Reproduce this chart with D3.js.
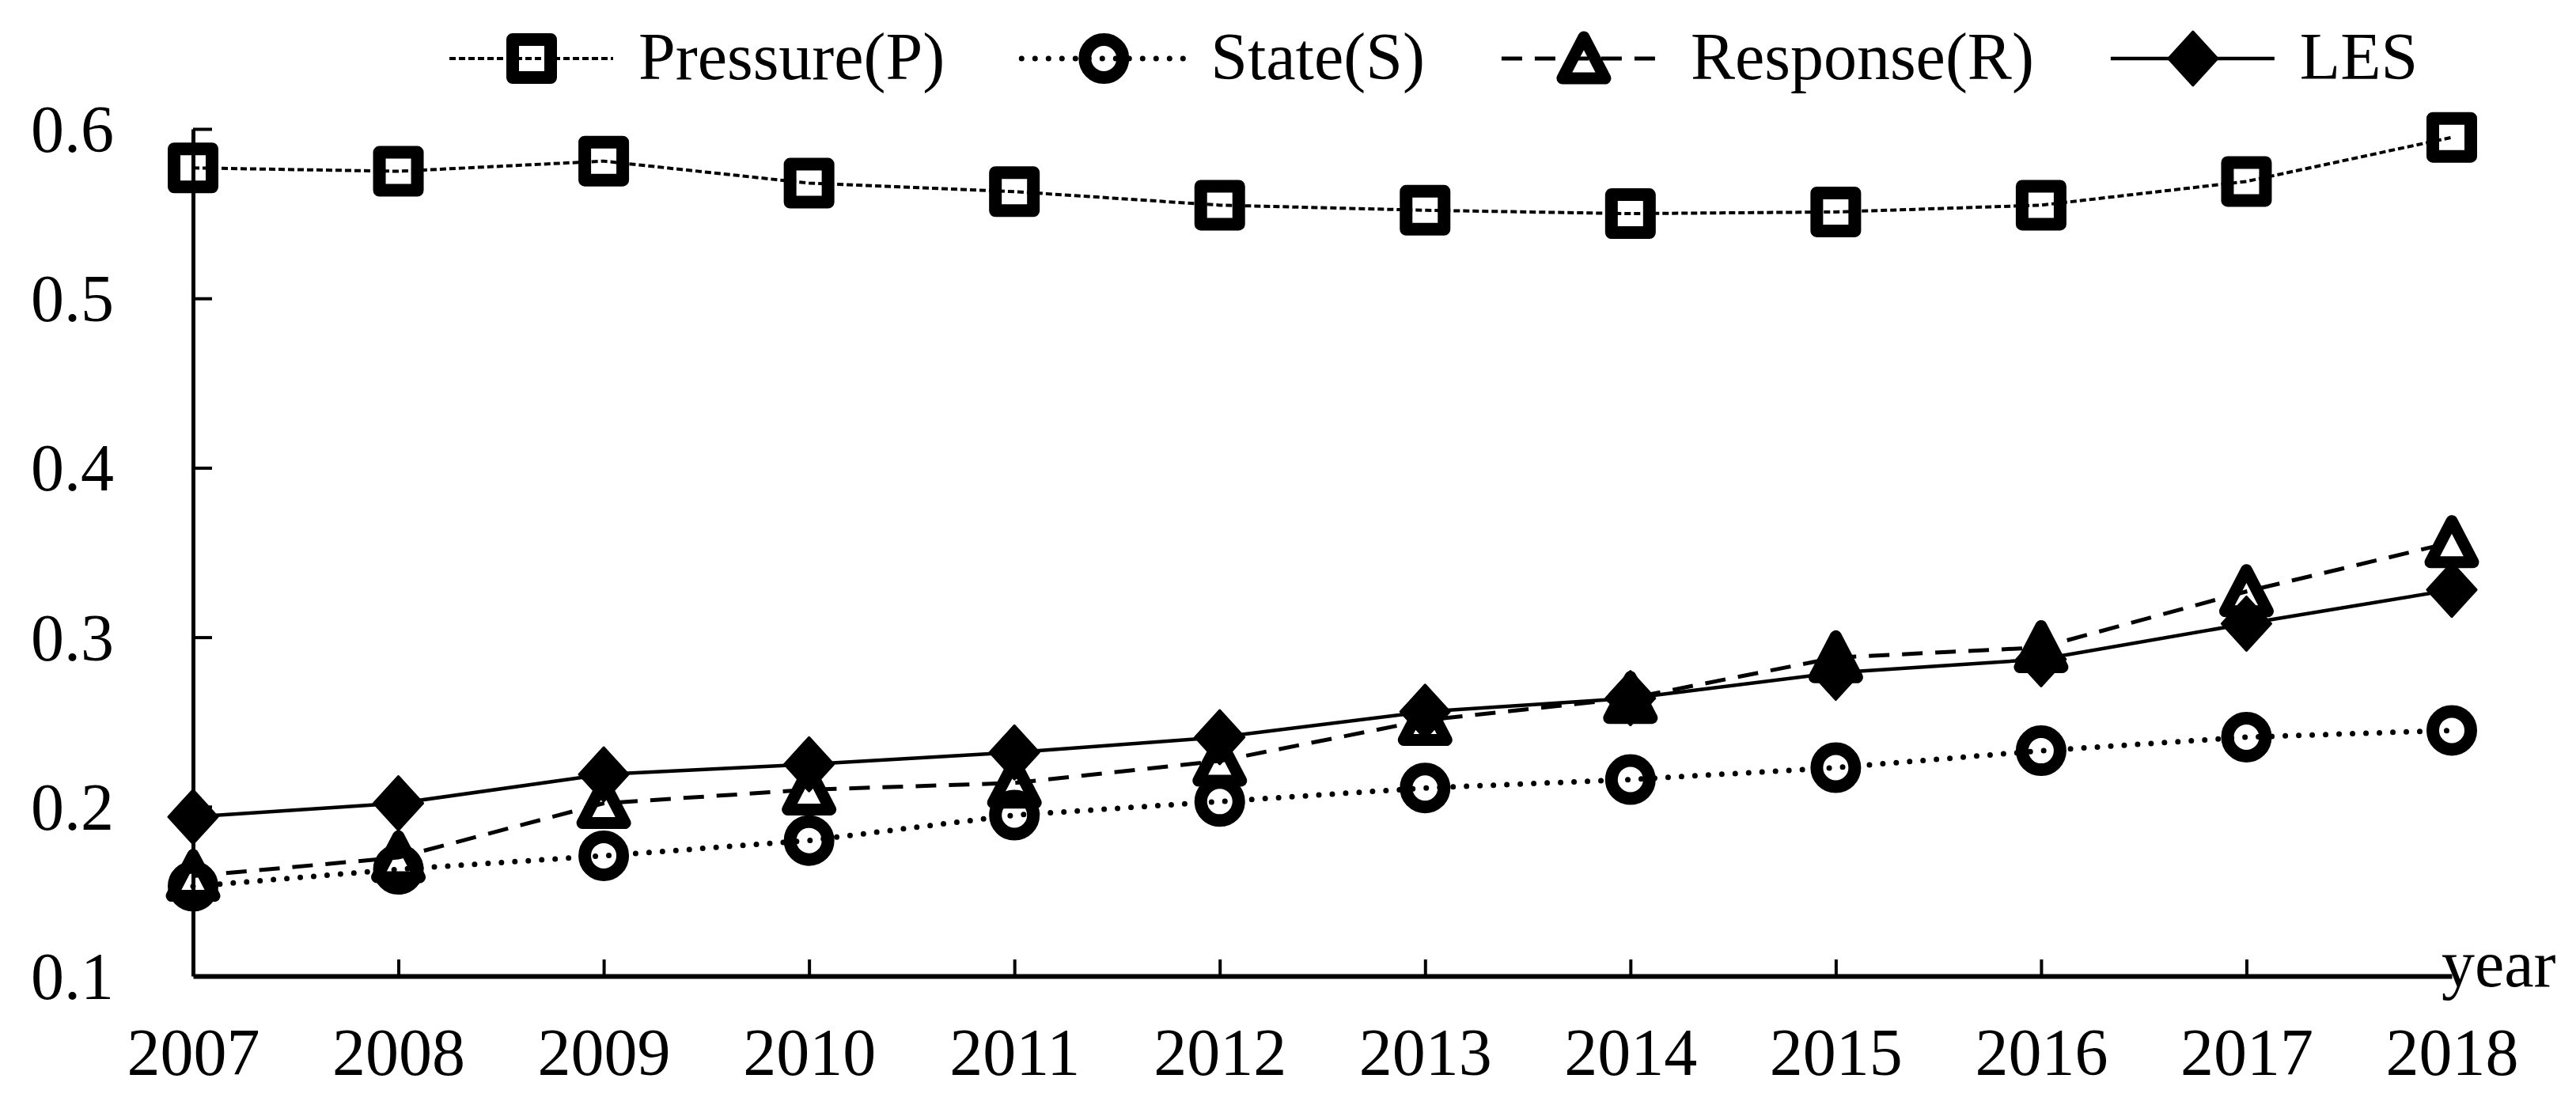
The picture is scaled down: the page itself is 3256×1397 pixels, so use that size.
<!DOCTYPE html>
<html>
<head>
<meta charset="utf-8">
<script src="https://cdn.jsdelivr.net/npm/d3@7"></script>
<style>
  body { margin: 0; background: #fff; }
  text { font-family: "Liberation Serif", "Times New Roman", serif; fill: #000; }
</style>
</head>
<body>
<div id="chart"></div>
<script>
// PSR line chart, 2007-2018

const years = ["2007", "2008", "2009", "2010", "2011", "2012", "2013", "2014", "2015", "2016", "2017", "2018"];
const yTicks = [0.1, 0.2, 0.3, 0.4, 0.5, 0.6];

const pressure = [0.577, 0.575, 0.581, 0.568, 0.563, 0.555, 0.552, 0.550, 0.551, 0.555, 0.569, 0.595];
const state    = [0.153, 0.163, 0.171, 0.180, 0.195, 0.203, 0.211, 0.216, 0.223, 0.233, 0.241, 0.245];
const response = [0.159, 0.170, 0.202, 0.210, 0.214, 0.227, 0.251, 0.264, 0.288, 0.294, 0.327, 0.356];
const les      = [0.194, 0.202, 0.219, 0.225, 0.232, 0.241, 0.256, 0.264, 0.279, 0.287, 0.308, 0.328];

const seriesNames = ["Pressure(P)", "State(S)", "Response(R)", "LES"];

const width = 3256;
const height = 1397;
const fontSize = 84;

const svg = d3.select("#chart")
    .append("svg")
    .attr("width", width)
    .attr("height", height);

svg.append("rect").attr("width", width).attr("height", height).attr("fill", "#fff");

const x = d3.scalePoint().domain(years).range([244, 3099]);
const y = d3.scaleLinear().domain([0.1, 0.6]).range([1234, 163]);

// marker shapes
const squarePath = "M-24,-24H24V24H-24Z";
const trianglePath = "M0,-27L27,25H-27Z";
const diamondPath = "M0,-34L31,0L0,34L-31,0Z";

const styles = [
    { values: pressure, dash: "8,4", width: 4, cap: "butt", marker: "square" },
    { values: state, dash: "0,17", width: 7, cap: "round", marker: "circle" },
    { values: response, dash: "26,16", width: 5, cap: "butt", marker: "triangle" },
    { values: les, dash: null, width: 4.5, cap: "butt", marker: "diamond" }
];

function drawMarker(g, type) {
    if (type === "square") {
        g.append("path").attr("d", squarePath)
            .attr("fill", "none").attr("stroke", "#000")
            .attr("stroke-width", 16).attr("stroke-linejoin", "round");
    } else if (type === "circle") {
        g.append("circle").attr("r", 24)
            .attr("fill", "none").attr("stroke", "#000").attr("stroke-width", 16);
    } else if (type === "triangle") {
        g.append("path").attr("d", trianglePath)
            .attr("fill", "none").attr("stroke", "#000")
            .attr("stroke-width", 15).attr("stroke-linejoin", "round");
    } else {
        g.append("path").attr("d", diamondPath)
            .attr("fill", "#000").attr("stroke", "#000")
            .attr("stroke-width", 3).attr("stroke-linejoin", "round");
    }
}

// axes
const yAxis = d3.axisLeft(y)
    .tickValues(yTicks)
    .tickFormat(d3.format(".1f"))
    .tickSizeInner(-24)
    .tickSizeOuter(0)
    .tickPadding(100);

const yG = svg.append("g")
    .attr("transform", `translate(${x(years[0])},0)`)
    .call(yAxis);
yG.select(".domain").attr("stroke", "#000").attr("stroke-width", 5);
yG.selectAll(".tick line").attr("stroke", "#000").attr("stroke-width", 4)
    .filter(d => d === 0.1).remove();
yG.selectAll(".tick text")
    .attr("font-size", fontSize)
    .attr("font-family", "Liberation Serif, Times New Roman, serif")
    .attr("dy", "0.34em");

const xAxis = d3.axisBottom(x)
    .tickSizeInner(-21)
    .tickSizeOuter(0)
    .tickPadding(65);

const xG = svg.append("g")
    .attr("transform", `translate(0,${y(0.1)})`)
    .call(xAxis);
xG.select(".domain").attr("stroke", "#000").attr("stroke-width", 6);
xG.selectAll(".tick line").attr("stroke", "#000").attr("stroke-width", 4)
    .filter(d => d === years[0] || d === years[years.length - 1]).remove();
xG.selectAll(".tick text")
    .attr("font-size", fontSize)
    .attr("font-family", "Liberation Serif, Times New Roman, serif");

svg.append("text")
    .attr("x", x(years[years.length - 1]) - 13)
    .attr("y", y(0.1) + 13)
    .attr("font-size", fontSize)
    .text("year");

// series
const line = d3.line()
    .x((d, i) => x(years[i]))
    .y(d => y(d));

styles.forEach(s => {
    svg.append("path")
        .datum(s.values)
        .attr("d", line)
        .attr("fill", "none")
        .attr("stroke", "#000")
        .attr("stroke-width", s.width)
        .attr("stroke-linecap", s.cap)
        .attr("stroke-dasharray", s.dash);

    s.values.forEach((v, i) => {
        const g = svg.append("g").attr("transform", `translate(${x(years[i])},${y(v)})`);
        drawMarker(g, s.marker);
    });
});

// legend
const legend = svg.append("g").attr("transform", "translate(568,74)");
let lx = 0;
styles.forEach((s, i) => {
    const item = legend.append("g").attr("transform", `translate(${lx},0)`);
    item.append("line")
        .attr("x1", 0).attr("x2", 207)
        .attr("stroke", "#000")
        .attr("stroke-width", s.width)
        .attr("stroke-linecap", s.cap)
        .attr("stroke-dasharray", s.dash);
    drawMarker(item.append("g").attr("transform", "translate(104,0)"), s.marker);
    const t = item.append("text")
        .attr("x", 239)
        .attr("y", 26)
        .attr("font-size", fontSize)
        .text(seriesNames[i]);
    lx += 239 + t.node().getComputedTextLength() + 97;
});
</script>
</body>
</html>
